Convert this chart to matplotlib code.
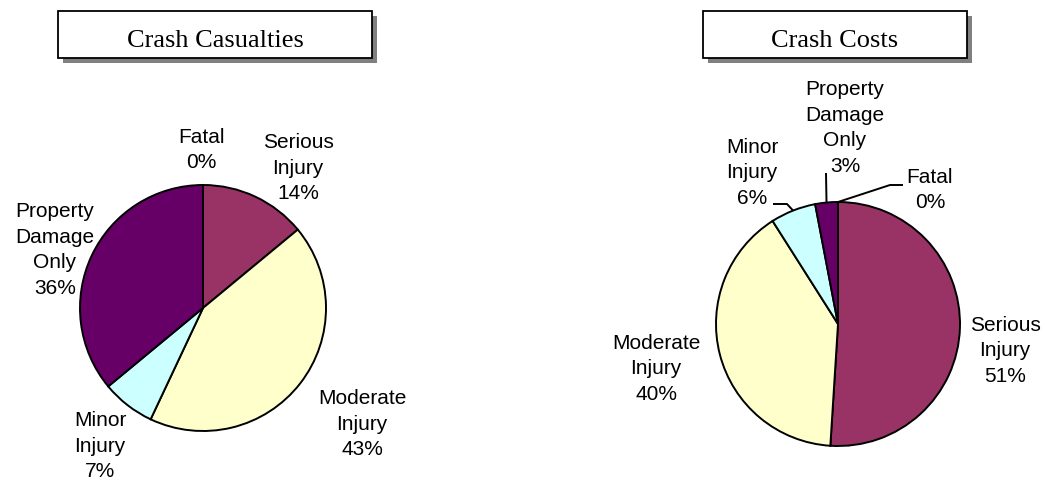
import matplotlib
matplotlib.use('Agg')
import matplotlib.pyplot as plt
from matplotlib.patches import Rectangle
import numpy as np

# ---- data ----
categories = ['Fatal', 'Serious Injury', 'Moderate Injury', 'Minor Injury', 'Property Damage Only']
label_lines = ['Fatal', 'Serious\nInjury', 'Moderate\nInjury', 'Minor\nInjury', 'Property\nDamage\nOnly']
casualty_pct = [0, 14, 43, 7, 36]
cost_pct = [0, 51, 40, 6, 3]
titles = ['Crash Casualties', 'Crash Costs']
colors = ['#9999FF', '#993366', '#FFFFCC', '#CCFFFF', '#660066']

W, H = 1045, 480
fig = plt.figure(figsize=(W / 100, H / 100), dpi=100)
ax = fig.add_axes([0, 0, 1, 1])

LABEL_FONT = dict(family=['Liberation Sans', 'DejaVu Sans'], fontsize=15, color='black')
TITLE_FONT = dict(family=['Liberation Serif', 'DejaVu Serif'], fontsize=19, color='black')


def yy(ypx):
    return H - ypx


def draw_pie(vals, cx, cy, r, label_pos, leaders):
    ax.pie(vals, colors=colors, startangle=90, counterclock=False,
           center=(cx, yy(cy)), radius=r, normalize=True,
           wedgeprops=dict(edgecolor='black', linewidth=1.4))
    total = float(sum(vals))
    cum = np.cumsum([0] + list(vals))
    for i, (txt, v) in enumerate(zip(label_lines, vals)):
        lx, ly = label_pos[i]
        ax.text(lx, yy(ly), f'{txt}\n{v}%', ha='center', va='center',
                multialignment='center', linespacing=1.45, **LABEL_FONT)
        if leaders.get(i) is not None:
            mid = (cum[i] + cum[i + 1]) / 2 / total * 2 * np.pi
            sx = cx + r * np.sin(mid)
            sy = cy - r * np.cos(mid)
            pts = [(sx, sy)] + leaders[i]
            ax.plot([p[0] for p in pts], [yy(p[1]) for p in pts],
                    color='black', lw=1.4, solid_capstyle='butt')


def draw_title(text, x0, x1, y0, y1, tx):
    ax.add_patch(Rectangle((x0 + 5, yy(y1 + 5)), x1 - x0, y1 - y0,
                           facecolor='#808080', edgecolor='none', zorder=3))
    ax.add_patch(Rectangle((x0, yy(y1)), x1 - x0, y1 - y0,
                           facecolor='white', edgecolor='black', linewidth=1.3, zorder=4))
    ax.text(tx, yy(47), text, ha='center', va='baseline', zorder=5, **TITLE_FONT)


# left pie
draw_pie(casualty_pct, 203, 308, 123,
         [(201, 150), (298, 168), (362, 424), (100, 446), (55, 250)], {})

# right pie
draw_pie(cost_pct, 838, 324, 122,
         [(930, 190), (1005, 351), (656, 369), (752, 173), (845, 128)],
         {0: [(890, 185), (903, 185)],
          3: [(787, 204), (773, 204)],
          4: [(826, 173)]})

draw_title(titles[0], 58, 372, 11, 58, 215)
draw_title(titles[1], 703, 967, 11, 58, 835)

ax.set_xlim(0, W)
ax.set_ylim(0, H)
ax.set_aspect('auto')
ax.axis('off')
fig.savefig('out.png', dpi=100, facecolor='white')
